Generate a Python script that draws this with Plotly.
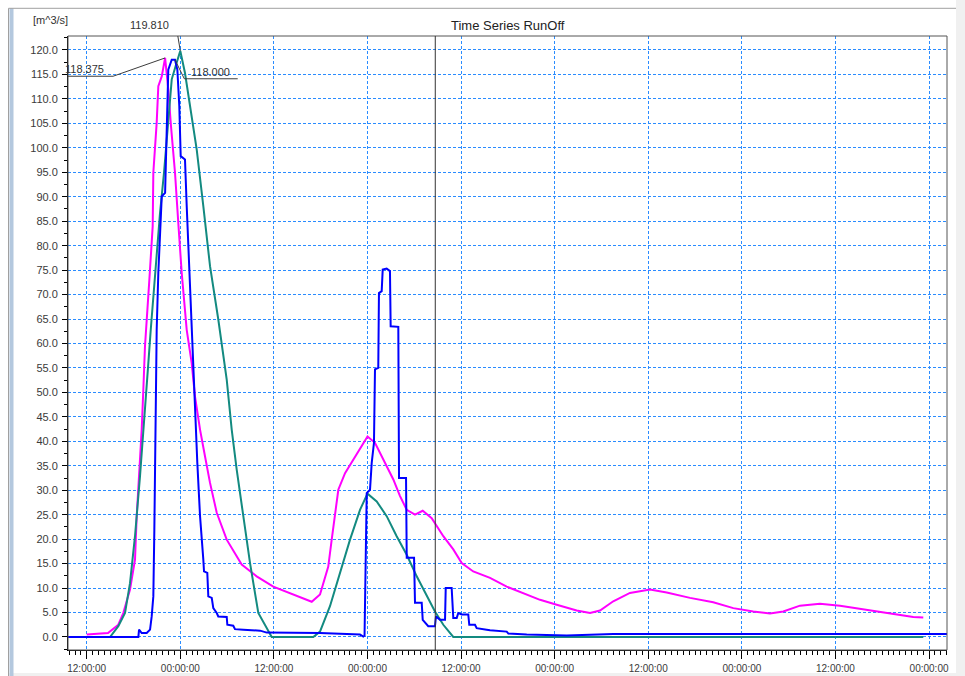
import pandas as pd
import plotly.graph_objects as go

# ---------------- data ----------------
start_time = pd.Timestamp("2021-07-13 12:00:00")   # first "12:00:00" tick

# magenta series (hours after start, m^3/s)
mag_h = [0, 2.73, 4.05, 4.69, 5.55, 6.19, 6.41, 6.83, 7.05, 7.26,
         7.47, 8.03, 8.46, 8.54, 8.97, 9.18, 9.62, 10.05, 10.46, 10.77,
         11.32, 11.74, 12.18, 12.82, 13.46, 13.88, 14.53, 15.17, 15.81, 16.67,
         17.95, 19.87, 21.79, 23.92, 26.49, 28.85, 29.91, 30.97, 31.41, 31.83,
         32.26, 33.12, 34.18, 35.68, 36.0, 36.96, 38.03, 39.31, 40.17, 41.03,
         42.09, 43.08, 44.23, 45.72, 47.0, 48.08, 49.56, 51.71, 53.85, 56.41,
         58.12, 60.26, 62.82, 64.53, 65.81, 67.51, 69.65, 72.22, 74.36, 77.35,
         80.33, 82.9, 85.46, 87.6, 89.31, 91.45, 94.01, 96.58, 99.56, 102.99,
         105.97, 107.26]
mag_v = [0.5, 0.8, 2.5, 4.9, 9.7, 15.8, 24.7, 34.9, 42.4, 50.6,
         59.4, 73.0, 84.0, 94.9, 105.1, 112.6, 114.6, 118.375, 111.9, 105.1,
         94.9, 84.7, 74.4, 62.8, 56.0, 49.2, 42.4, 36.9, 31.5, 25.4,
         19.9, 14.8, 12.4, 10.3, 8.7, 7.2, 8.7, 14.4, 19.9, 25.4,
         30.1, 33.5, 36.3, 40.0, 41.0, 39.7, 36.3, 32.2, 28.8, 26.0,
         25.0, 25.8, 24.3, 20.6, 17.9, 15.1, 13.4, 12.1, 10.3, 8.7,
         7.6, 6.6, 5.4, 4.9, 5.4, 7.3, 9.0, 9.7, 9.1, 8.0,
         7.1, 5.9, 5.2, 4.8, 5.2, 6.4, 6.8, 6.4, 5.7, 4.9,
         4.1, 4.0]

# teal series
teal_h = [0, 2.99, 4.05, 4.91, 5.55, 6.19, 6.83, 7.47, 7.9, 8.21,
          8.76, 9.4, 9.91, 10.46, 10.9, 11.45, 12.0, 12.6, 13.24, 14.1,
          14.95, 15.81, 16.87, 17.95, 18.59, 19.23, 20.08, 20.94, 22.0, 23.5,
          23.72, 29.05, 29.91, 31.19, 32.47, 33.76, 35.04, 36.0, 37.18, 38.46,
          39.74, 41.03, 42.31, 43.59, 44.65, 45.72, 47.0, 107.26]
teal_v = [0, 0, 2.2, 4.9, 11.0, 20.6, 32.8, 45.8, 56.0, 62.8,
          74.4, 86.7, 94.9, 105.1, 114.0, 117.0, 119.81, 115.3, 108.5, 99.7,
          88.1, 75.8, 64.9, 52.6, 42.4, 34.2, 24.7, 15.1, 4.9, 0.5,
          0, 0, 1.1, 6.3, 13.1, 19.9, 26.0, 29.3, 27.7, 24.7,
          20.6, 16.8, 12.4, 8.3, 5.2, 2.5, 0, 0]

# blue series
blue_h = [-3.0, 6.62, 6.71, 7.05, 7.69, 8.12, 8.33, 8.54, 8.67, 8.76,
          8.85, 8.97, 9.18, 9.4, 9.62, 10.05, 10.17, 10.33, 10.46, 10.9,
          11.32, 11.62, 11.87, 12.05, 12.6, 12.82, 13.15, 13.46, 13.67, 13.88,
          14.18, 14.53, 14.95, 15.04, 15.46, 15.59, 16.03, 16.23, 16.67, 16.87,
          17.95, 18.03, 18.79, 19.01, 20.08, 20.94, 22.23, 23.08, 24.78, 29.91,
          35.04, 35.46, 35.62, 35.74, 35.85, 35.9, 36.32, 36.54, 36.83, 36.96,
          37.38, 37.47, 37.82, 37.95, 38.46, 38.88, 38.97, 39.95, 40.04, 40.94,
          41.03, 41.97, 42.09, 42.95, 43.08, 43.79, 44.65, 44.78, 45.29, 45.94,
          46.03, 46.79, 47.0, 47.44, 47.64, 48.08, 48.92, 49.05, 49.78, 50.0,
          51.28, 51.71, 53.85, 54.06, 56.41, 61.54, 67.51, 113.0]
blue_v = [0.0, 0.0, 1.5, 0.8, 0.8, 1.5, 4.2, 8.3, 21.9, 35.6,
          49.2, 62.8, 74.4, 81.2, 90.1, 90.8, 98.3, 108.5, 116.0, 118.0,
          118.0, 116.0, 108.5, 98.3, 97.6, 88.1, 74.4, 60.8, 56.0, 47.2,
          35.6, 24.7, 15.8, 13.4, 13.1, 8.3, 8.0, 5.9, 4.9, 4.2,
          4.1, 2.5, 2.3, 1.6, 1.5, 1.4, 1.3, 0.9, 0.9, 0.8,
          0.5, 0.1, 0.3, 13.1, 26.7, 29.4, 30.1, 35.6, 39.7, 54.7,
          55.0, 70.3, 70.7, 75.1, 75.3, 74.8, 63.5, 63.4, 32.5, 32.5,
          16.2, 16.2, 7.0, 7.0, 3.5, 2.2, 2.2, 4.2, 3.5, 3.5,
          10.0, 10.0, 3.9, 3.9, 4.9, 4.6, 4.6, 2.5, 2.5, 1.8,
          1.5, 1.4, 1.1, 0.7, 0.5, 0.3, 0.6, 0.6]

# peak labels
peak_h = [12.0, 10.05, 11.32]
peak_v = [119.81, 118.375, 118.0]
peak_text = ["119.810", "118.375", "118.000"]

cursor_h = 44.69
x_range_h = [-2.4, 110.3]
y_range = [-2.66, 122.86]


def to_time(hours):
    return [start_time + pd.Timedelta(hours=h) for h in hours]


fig = go.Figure()
fig.add_trace(go.Scatter(x=to_time(mag_h), y=mag_v, mode="lines",
                         line=dict(color="#ff00ff", width=2), hoverinfo="skip"))
fig.add_trace(go.Scatter(x=to_time(teal_h), y=teal_v, mode="lines",
                         line=dict(color="#138a80", width=2), hoverinfo="skip"))
fig.add_trace(go.Scatter(x=to_time(blue_h), y=blue_v, mode="lines",
                         line=dict(color="#0000ff", width=2), hoverinfo="skip"))

grid = dict(showgrid=True, gridcolor="#2a8cff", gridwidth=1, griddash="3px,2px")
tickfont = dict(family="Liberation Sans, Arial, sans-serif", size=11, color="#3a3a3a")

fig.update_xaxes(
    type="date", range=to_time(x_range_h), tick0=start_time, dtick=12 * 3600 * 1000,
    tickformat="%H:%M:%S", ticks="outside", ticklen=8, tickcolor="#000",
    showline=True, linecolor="#000", linewidth=1, mirror=False, zeroline=False,
    automargin=False, ticklabelstandoff=1,
    tickfont=dict(family="Liberation Sans, Arial, sans-serif", size=10, color="#3a3a3a"),
    minor=dict(dtick=45 * 60 * 1000, ticks="outside", ticklen=4, tickcolor="#000",
               showgrid=False),
    **grid)
fig.update_yaxes(
    range=y_range, tick0=0, dtick=5, tickformat=".1f", ticks="outside", ticklen=5,
    tickcolor="#000", showline=True, linecolor="#000", linewidth=1, zeroline=False,
    automargin=False,
    tickfont=tickfont, ticklabelstandoff=2,
    minor=dict(dtick=2.5, ticks="outside", ticklen=3, tickcolor="#000", showgrid=False),
    **grid)

shapes = []
# plot frame (top/right)
shapes.append(dict(type="rect", xref="paper", yref="paper", x0=0, x1=1, y0=0, y1=1,
                   line=dict(color="#555", width=1), layer="above"))
# cursor line
shapes.append(dict(type="line", xref="x", yref="paper",
                   x0=to_time([cursor_h])[0], x1=to_time([cursor_h])[0], y0=0, y1=1,
                   line=dict(color="#333", width=1), layer="above"))

# leader lines (pixel offsets from peak points)
leader_paths = ["M0,0 L-3.3,19.7 L-57.3,19.7",
                "M0,0 L-52,-18.3 L-108,-18.3",
                "M0,0 L9.3,-19 L62.7,-19"]
label_shift = [(-31, 18), (-81, -19), (35, -20)]
ptimes = to_time(peak_h)
for t, v, p in zip(ptimes, peak_v, leader_paths):
    shapes.append(dict(type="path", xref="x", yref="y", xsizemode="pixel", ysizemode="pixel",
                       xanchor=t, yanchor=v, path=p,
                       line=dict(color="#3c3c3c", width=1), layer="above"))

annotations = []
for t, v, txt, (dx, dy) in zip(ptimes, peak_v, peak_text, label_shift):
    annotations.append(dict(x=t, y=v, xref="x", yref="y", text=txt, showarrow=False,
                            xanchor="center", yanchor="bottom", xshift=dx, yshift=dy,
                            font=dict(family="Liberation Sans, Arial, sans-serif", size=11,
                                      color="#333")))

annotations.append(dict(x=0.5, y=(650 - 26) / 614, xref="paper", yref="paper",
                        text="Time Series RunOff", showarrow=False, xanchor="center",
                        yanchor="middle",
                        font=dict(family="Liberation Sans, Arial, sans-serif", size=13,
                                  color="#222")))
annotations.append(dict(x=(50 - 68) / 879, y=(650 - 20) / 614, xref="paper", yref="paper",
                        text="[m^3/s]", showarrow=False, xanchor="center",
                        yanchor="middle",
                        font=dict(family="Liberation Sans, Arial, sans-serif", size=11,
                                  color="#333")))


# window chrome
def px(xp):
    return (xp - 68) / 879


def py(yp):
    return (650 - yp) / 614


shapes.append(dict(type="rect", xref="paper", yref="paper", x0=px(956), x1=px(966),
                   y0=py(677), y1=py(-1), fillcolor="#f0f0f0", line=dict(width=0)))
shapes.append(dict(type="rect", xref="paper", yref="paper", x0=px(9), x1=px(966),
                   y0=py(677), y1=py(673), fillcolor="#f0f0f0", line=dict(width=0)))
shapes.append(dict(type="rect", xref="paper", yref="paper", x0=px(9.5), x1=px(13.5),
                   y0=py(677), y1=py(8.3), fillcolor="#b4c8de", line=dict(width=0)))
shapes.append(dict(type="line", xref="paper", yref="paper", x0=px(8.5), x1=px(956),
                   y0=py(8.3), y1=py(8.3), line=dict(color="#a0a0a0", width=1)))
shapes.append(dict(type="line", xref="paper", yref="paper", x0=px(8.5), x1=px(8.5),
                   y0=py(677), y1=py(8.3), line=dict(color="#a0a0a0", width=1)))

fig.update_layout(
    width=965, height=676, autosize=False,
    margin=dict(l=68, r=18, t=36, b=26),
    paper_bgcolor="#ffffff", plot_bgcolor="#ffffff",
    showlegend=False, shapes=shapes, annotations=annotations,
)

fig.write_html("out.html")
